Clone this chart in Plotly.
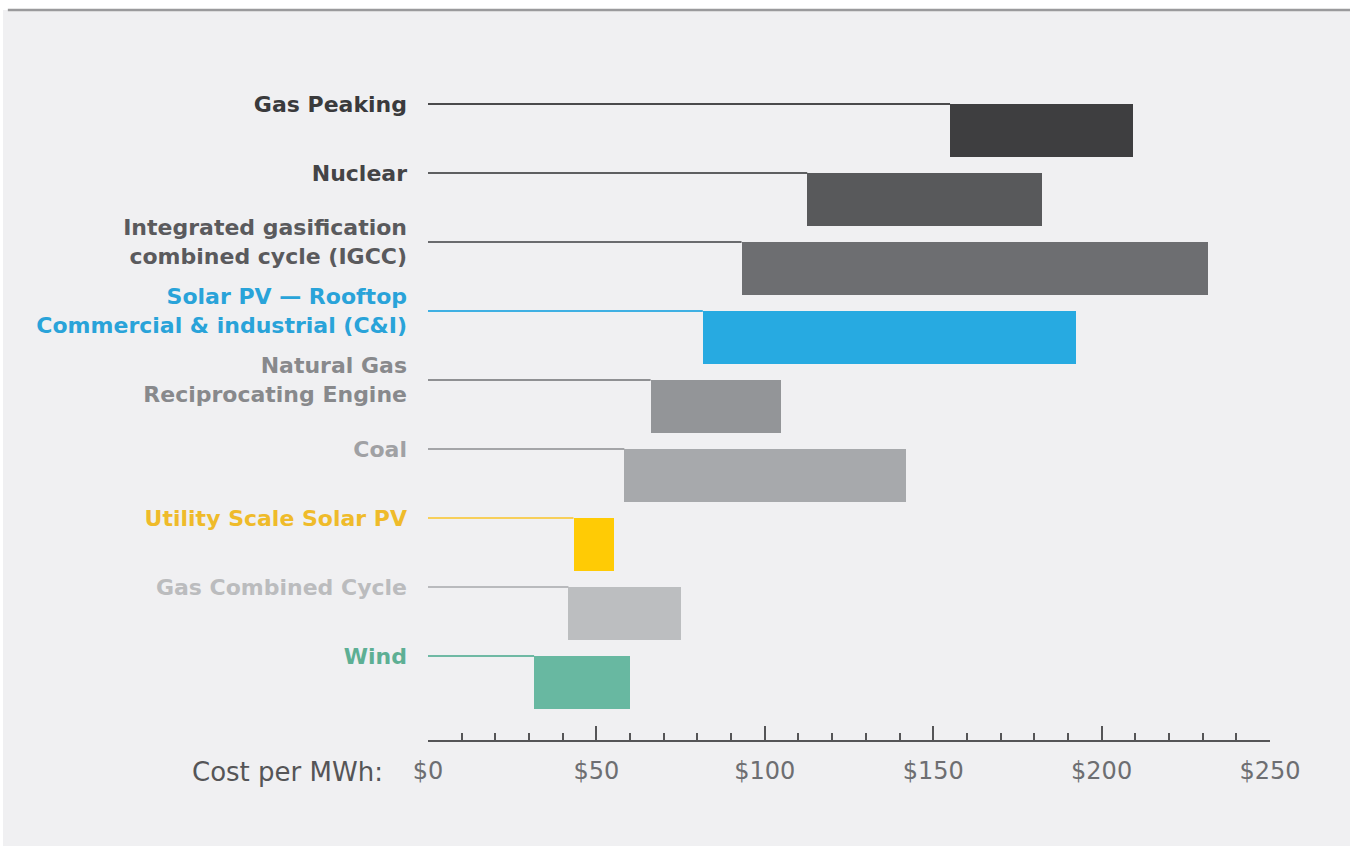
import plotly.graph_objects as go

categories = ["Wind", "Gas Combined Cycle", "Utility Scale Solar PV", "Coal",
              "Natural Gas<br>Reciprocating Engine",
              "Solar PV — Rooftop<br>Commercial & industrial (C&I)",
              "Integrated gasification<br>combined cycle (IGCC)", "Nuclear", "Gas Peaking"]
low_cost = [31.5, 41.7, 43.2, 58.3, 66.1, 81.6, 93.1, 112.6, 155]
high_cost = [60, 75.1, 55.1, 141.9, 104.8, 192.4, 231.6, 182.3, 209.4]
bar_colors = ["#68b8a1", "#bcbec0", "#ffcb05", "#a7a9ac", "#939598",
              "#27aae1", "#6d6e71", "#58595b", "#3e3e40"]
line_colors = ["#6fb9a4", "#b9babd", "#f7cf5a", "#a4a5a8", "#8f9093",
               "#3fb0e3", "#6a6b6e", "#5e5f61", "#4a4a4c"]
label_colors = ["#5daf94", "#bbbcbe", "#efbb2a", "#a0a1a4", "#88898c",
                "#29a3d9", "#5a5a5d", "#444446", "#3a3a3c"]
tick_values = [0, 50, 100, 150, 200, 250]
tick_labels = ["$0", "$50", "$100", "$150", "$200", "$250"]

bar_h = 0.765
rows = list(range(len(categories)))

fig = go.Figure()
for i in rows:
    fig.add_trace(go.Scatter(x=[0, low_cost[i]], y=[i, i], mode="lines",
                             line=dict(color=line_colors[i], width=2),
                             hoverinfo="skip", showlegend=False))
fig.add_trace(go.Bar(
    y=[i - bar_h / 2 for i in rows],
    x=[h - l for h, l in zip(high_cost, low_cost)],
    base=low_cost, orientation="h", width=bar_h,
    marker=dict(color=bar_colors, line=dict(width=0)),
    showlegend=False))

fig.update_layout(
    width=1350, height=846,
    margin=dict(l=428, r=80, t=60, b=106),
    paper_bgcolor="#f0f0f2", plot_bgcolor="#f0f0f2",
    font=dict(family="DejaVu Sans, sans-serif"),
    bargap=0,
    xaxis=dict(range=[0, 250], tickvals=tick_values, ticktext=tick_labels,
               showgrid=False, zeroline=False, showline=True,
               linecolor="#555557", linewidth=2,
               ticks="inside", ticklen=14, tickwidth=2, tickcolor="#555557",
               minor=dict(dtick=10, ticks="inside", ticklen=7, tickwidth=2,
                          tickcolor="#555557"),
               tickfont=dict(size=24, color="#6d6e71"),
               ticklabelstandoff=8),
    yaxis=dict(range=[-1.217, 8.638], tickvals=rows,
               ticktext=[f"<span style='color:{c}'>{t}</span>"
                         for t, c in zip(categories, label_colors)],
               showgrid=False, zeroline=False, showline=False, ticks="",
               tickfont=dict(size=22, weight="bold"),
               ticklabelstandoff=20),
    shapes=[
        dict(type="rect", xref="paper", yref="paper", x0=-0.6, x1=1.2,
             y0=1.0735, y1=1.2, fillcolor="white", line=dict(width=0), layer="below"),
        dict(type="rect", xref="paper", yref="paper", x0=-0.6, x1=-0.5047,
             y0=-0.3, y1=1.2, fillcolor="white", line=dict(width=0), layer="below"),
        dict(type="line", xref="paper", yref="paper", x0=-0.499, x1=1.2,
             y0=1.0735, y1=1.0735, line=dict(color="#9a9a9c", width=2.5)),
    ],
    annotations=[
        dict(text="Cost per MWh:", xref="paper", yref="paper", x=-0.051, y=-0.047,
             xanchor="right", yanchor="middle", showarrow=False,
             font=dict(size=26, color="#555557")),
    ],
)

fig.write_html("out.html", config={"displayModeBar": False},
               post_script="document.body.style.margin='0px';"
                           "document.body.style.overflow='hidden';")
